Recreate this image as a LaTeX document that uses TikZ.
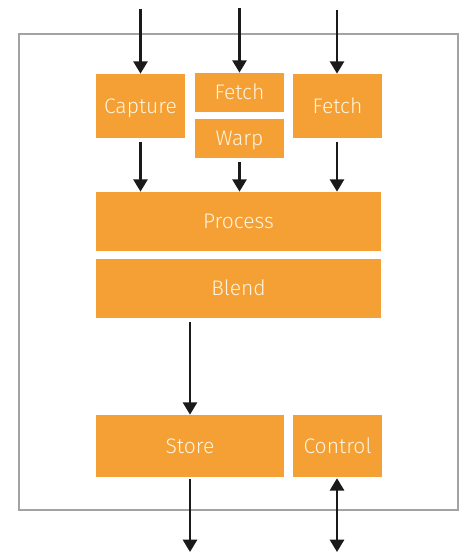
\documentclass[tikz,border=0pt]{standalone}
\usepackage{fontspec}
\setsansfont{Fira Sans Light}[BoldFont=Fira Sans]
\usepackage{tikz}
\usetikzlibrary{arrows.meta}
\usepackage{xcolor}
\definecolor{unitorange}{HTML}{F4A034}
\definecolor{unittext}{HTML}{FFF4DF}
\definecolor{framegray}{HTML}{A3A3A3}
\definecolor{arrowblack}{HTML}{1A1A1A}

\tikzset{
	unit/.style={fill=unitorange, text=unittext, inner sep=0pt,
		text height=8.2pt, text depth=0pt,
		font=\sffamily\fontsize{12}{14}\selectfont},
	flow/.style={draw=arrowblack, line width=1.4pt,
		-{Triangle[width=8pt,length=7pt]}},
}

\begin{document}
\begin{tikzpicture}[x=0.02cm,y=-0.02cm]
		
		\useasboundingbox (0,0) rectangle (465,553);
		\draw[framegray, line width=1.1pt] (19,34) rectangle (458,510);
		
		% input stage
		\node[unit, minimum width=1.78cm, minimum height=1.28cm] (capture) at (140.5,106) {Capture};
		\node[unit, minimum width=1.78cm, minimum height=0.78cm] (fetchA) at (239.5,92.5) {Fetch};
		\node[unit, minimum width=1.78cm, minimum height=0.78cm] (warp) at (239.5,138.5) {Warp};
		\node[unit, minimum width=1.78cm, minimum height=1.28cm] (fetchB) at (337.5,106) {Fetch};
		% middle stage
		\node[unit, minimum width=5.70cm, minimum height=1.18cm] (process) at (238.5,221.5) {Process};
		\node[unit, minimum width=5.70cm, minimum height=1.18cm] (blend) at (238.5,288.5) {Blend};
		% output stage
		\node[unit, minimum width=3.76cm, minimum height=1.24cm] (store) at (190,446) {Store};
		\node[unit, minimum width=1.78cm, minimum height=1.24cm] (control) at (337.5,446) {Control};
		
		\coordinate (inA) at (140.5,9);
		\coordinate (inB) at (239.5,8);
		\coordinate (inC) at (337,10);
		\coordinate (outA) at (190,552);
		\coordinate (outB) at (337,552);
		
		\draw[flow] (inA) -- (capture.north);
		\draw[flow] (inB) -- (fetchA.north);
		\draw[flow] (inC) -- (inC |- fetchB.north);
		\foreach \src in {capture,warp}
		\draw[flow, shorten <=2pt] (\src.south) -- (\src.south |- process.north);
		\draw[flow, shorten <=2pt] (inC |- fetchB.south) -- (inC |- process.north);
		\draw[flow, shorten <=2pt] (store.north |- blend.south) -- (store.north);
		\draw[flow, shorten <=1pt] (store.south) -- (outA);
		\draw[flow, {Triangle[width=8pt,length=7pt]}-{Triangle[width=8pt,length=7pt]}, shorten <=0.5pt] (inC |- control.south) -- (outB);
		
\end{tikzpicture}
\end{document}
